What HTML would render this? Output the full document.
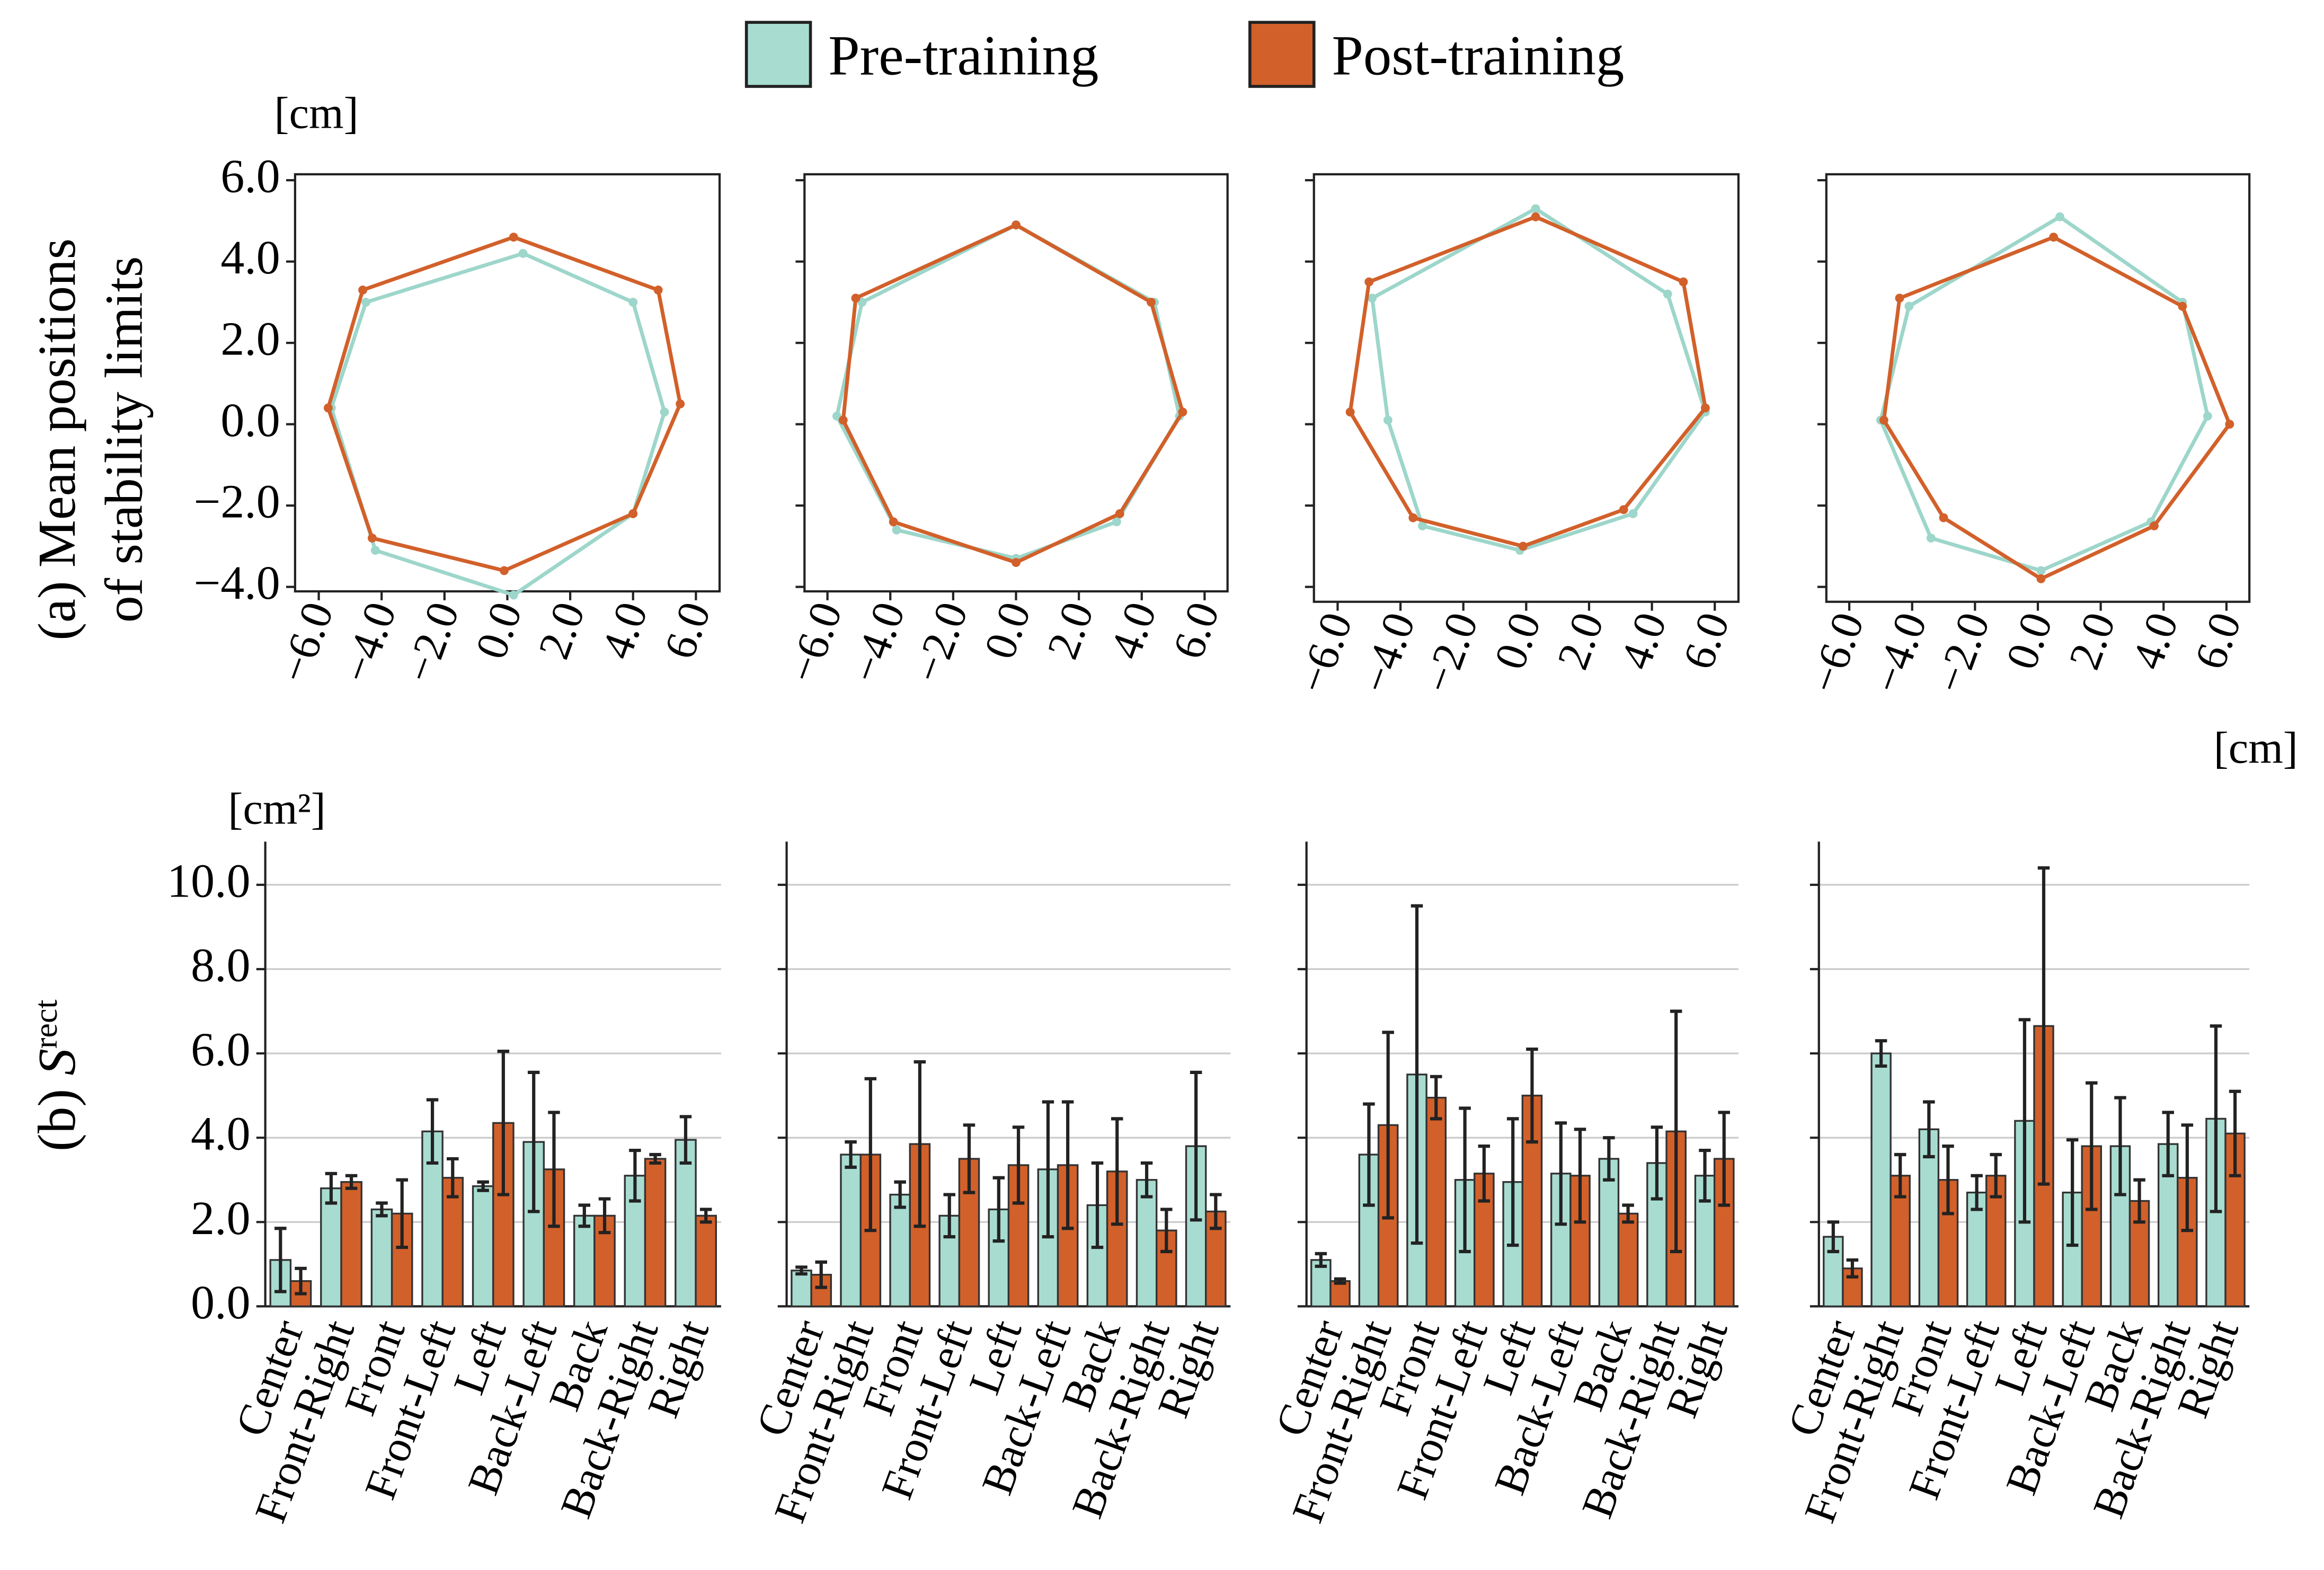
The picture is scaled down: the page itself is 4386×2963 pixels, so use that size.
<!DOCTYPE html>
<html><head><meta charset="utf-8">
<style>
html,body{margin:0;padding:0;background:#fff;}
svg{display:block;font-family:"Liberation Serif",serif;}
</style></head>
<body>
<svg id="fig" width="4386" height="2963" viewBox="0 0 1560 1054" xmlns="http://www.w3.org/2000/svg">
  <g>
    <rect x="501" y="15" width="43" height="43" fill="#a8dcd1" stroke="#222" stroke-width="2"/>
    <text x="556" y="50" font-size="38">Pre-training</text>
    <rect x="839" y="15" width="43" height="43" fill="#d2602a" stroke="#222" stroke-width="2"/>
    <text x="894" y="50" font-size="38">Post-training</text>
  </g>
  <text x="184" y="86" font-size="30">[cm]</text>
  <text x="1486" y="512" font-size="30">[cm]</text>
  <text x="153" y="553" font-size="30">[cm²]</text>
  <text font-size="36" text-anchor="middle" transform="translate(50,295) rotate(-90)">(a) Mean positions</text>
  <text font-size="36" text-anchor="middle" transform="translate(95,295) rotate(-90)">of stability limits</text>
  <text font-size="36" text-anchor="middle" transform="translate(50,722) rotate(-90)">(b) <tspan font-style="italic">S</tspan><tspan font-size="22" dy="-12">rect</tspan></text>
  <g id="radars"></g>
  <g id="bars"></g>
</svg>
<script>
// ---- radar data (x,y in cm), order: Front, FR, Right, BR, Back, BL, Left, FL
const radarPreX = [[0.5,4.0,5.0,4.0,0.2,-4.2,-5.6,-4.5],[0.0,4.4,5.2,3.2,0.0,-3.8,-5.7,-4.9],[0.3,4.5,5.7,3.4,-0.2,-3.3,-4.4,-4.9],[0.7,4.6,5.4,3.6,0.1,-3.4,-5.0,-4.1]];
const radarPreY = [[4.2,3.0,0.3,-2.2,-4.2,-3.1,0.4,3.0],[4.9,3.0,0.2,-2.4,-3.3,-2.6,0.2,3.0],[5.3,3.2,0.3,-2.2,-3.1,-2.5,0.1,3.1],[5.1,3.0,0.2,-2.4,-3.6,-2.8,0.1,2.9]];
const radarPostX = [[0.2,4.8,5.5,4.0,-0.1,-4.3,-5.7,-4.6],[0.0,4.3,5.3,3.3,0.0,-3.9,-5.5,-5.1],[0.3,5.0,5.7,3.1,-0.1,-3.6,-5.6,-5.0],[0.5,4.6,6.1,3.7,0.1,-3.0,-4.9,-4.4]];
const radarPostY = [[4.6,3.3,0.5,-2.2,-3.6,-2.8,0.4,3.3],[4.9,3.0,0.3,-2.2,-3.4,-2.4,0.1,3.1],[5.1,3.5,0.4,-2.1,-3.0,-2.3,0.3,3.5],[4.6,2.9,0.0,-2.5,-3.8,-2.3,0.1,3.1]];
const radarXTicks = ["−6.0","−4.0","−2.0","0.0","2.0","4.0","6.0"];
const radarXTickVals = [-6,-4,-2,0,2,4,6];
const radarYTicks = ["6.0","4.0","2.0","0.0","−2.0","−4.0"];
const radarYTickVals = [6,4,2,0,-2,-4];
// ---- bar data
const categories = ["Center","Front-Right","Front","Front-Left","Left","Back-Left","Back","Back-Right","Right"];
const barPre = [[1.1,2.8,2.3,4.15,2.85,3.9,2.15,3.1,3.95],[0.85,3.6,2.65,2.15,2.3,3.25,2.4,3.0,3.8],[1.1,3.6,5.5,3.0,2.95,3.15,3.5,3.4,3.1],[1.65,6.0,4.2,2.7,4.4,2.7,3.8,3.85,4.45]];
const barPreErr = [[0.75,0.35,0.15,0.75,0.1,1.65,0.25,0.6,0.55],[0.08,0.3,0.3,0.5,0.75,1.6,1.0,0.4,1.75],[0.15,1.2,4.0,1.7,1.5,1.2,0.5,0.85,0.6],[0.35,0.3,0.65,0.4,2.4,1.25,1.15,0.75,2.2]];
const barPost = [[0.6,2.95,2.2,3.05,4.35,3.25,2.15,3.5,2.15],[0.75,3.6,3.85,3.5,3.35,3.35,3.2,1.8,2.25],[0.6,4.3,4.95,3.15,5.0,3.1,2.2,4.15,3.5],[0.9,3.1,3.0,3.1,6.65,3.8,2.5,3.05,4.1]];
const barPostErr = [[0.3,0.15,0.8,0.45,1.7,1.35,0.4,0.1,0.15],[0.3,1.8,1.95,0.8,0.9,1.5,1.25,0.5,0.4],[0.05,2.2,0.5,0.65,1.1,1.1,0.2,2.85,1.1],[0.2,0.5,0.8,0.5,3.75,1.5,0.5,1.25,1.0]];
const barYTicks = ["0.0","2.0","4.0","6.0","8.0","10.0"];
const barYTickVals = [0,2,4,6,8,10];

const NS="http://www.w3.org/2000/svg";
function mk(tag,attrs,parent){const e=document.createElementNS(NS,tag);for(const k in attrs)e.setAttribute(k,attrs[k]);parent.appendChild(e);return e;}
const PRE="#a8dcd1", POST="#d2602a", PRE_LINE="#9dd6ca";

// radar panels
const radarFrames=[[198,117,483,397],[540,117,824,397],[882,117,1167,404],[1226,117,1510,404]];
const rg=document.getElementById('radars');
radarFrames.forEach((f,p)=>{
  const g=mk('g',{},rg);
  
  
  const [x0,y0,x1,y1]=f;
  const sx=v=>(x0+x1)/2+v*21.1;
  const sy=v=>y0+4+(6-v)*27.3;
  const fr=mk('rect',{x:x0,y:y0,width:x1-x0,height:y1-y0,fill:'none',stroke:'#222','stroke-width':1.5},g);
  
  
  radarXTickVals.forEach((v,i)=>{
    mk('line',{x1:sx(v),x2:sx(v),y1:y1,y2:y1+6,stroke:'#222','stroke-width':1.5},g);
    const t=mk('text',{'font-size':30,'text-anchor':'end',transform:`translate(${sx(v)+10},${y1+12}) rotate(-70)`},g);
    
    
    t.textContent=radarXTicks[i];
  });
  radarYTickVals.forEach((v,i)=>{
    mk('line',{x1:x0-6,x2:x0,y1:sy(v),y2:sy(v),stroke:'#222','stroke-width':1.5},g);
    if(p===0){
      const t=mk('text',{x:x0-10,y:sy(v)+8,'font-size':32,'text-anchor':'end'},g);
      
      
      t.textContent=radarYTicks[i];
    }
  });
  [[radarPreX,radarPreY,PRE_LINE,'pre'],[radarPostX,radarPostY,POST,'post']].forEach(([X,Y,c,n])=>{
    const pts=X[p].map((xv,i)=>sx(xv)+','+sy(Y[p][i])).join(' ');
    const pl=mk('polygon',{points:pts,fill:'none',stroke:c,'stroke-width':2.5},g);
    
    
    X[p].forEach((xv,i)=>{
      const c2=mk('circle',{cx:sx(xv),cy:sy(Y[p][i]),r:3,fill:c},g);
      
      
    });
  });
});

// bar panels
const barFrames=[[178,484],[528,826],[877,1167],[1221,1510]];
const by0=877, bTop=565;
const syb=v=>by0-v*28.3;
const bg=document.getElementById('bars');
barFrames.forEach((f,p)=>{
  const g=mk('g',{},bg);
  
  
  const [x0,x1]=f;
  barYTickVals.forEach((v,i)=>{
    if(v>0){const gl=mk('line',{x1:x0,x2:x1,y1:syb(v),y2:syb(v),stroke:'#ccc','stroke-width':1.2},g);
      
      }
    mk('line',{x1:x0-6,x2:x0,y1:syb(v),y2:syb(v),stroke:'#222','stroke-width':1.5},g);
    if(p===0){
      const t=mk('text',{x:x0-10,y:syb(v)+8,'font-size':32,'text-anchor':'end'},g);
      
      
      t.textContent=barYTicks[i];
    }
  });
  mk('line',{x1:x0,x2:x0,y1:bTop,y2:by0,stroke:'#222','stroke-width':1.5},g);
  mk('line',{x1:x0,x2:x1,y1:by0,y2:by0,stroke:'#222','stroke-width':1.5},g);
  const step=(x1-x0)/9, bw=step*0.4;
  categories.forEach((c,i)=>{
    const cx=x0+step*(i+0.5);
    [[barPre,barPreErr,PRE,-1,'pre'],[barPost,barPostErr,POST,0,'post']].forEach(([V,E,col,off,n])=>{
      const v=V[p][i], e=E[p][i], bx=cx+off*bw;
      const r=mk('rect',{x:bx,y:syb(v),width:bw,height:by0-syb(v),fill:col,stroke:'#333','stroke-width':1.2},g);
      
      
      const mx=bx+bw/2;
      const eb=mk('path',{d:`M${mx},${syb(v-e)}V${syb(v+e)}M${mx-4},${syb(v-e)}H${mx+4}M${mx-4},${syb(v+e)}H${mx+4}`,stroke:'#222','stroke-width':2.2,fill:'none'},g);
      
      
    });
    const t=mk('text',{'font-size':30,'text-anchor':'end',transform:`translate(${cx+9},${by0+14}) rotate(-70)`},g);
    
    
    t.textContent=c;
  });
});
</script>
</body></html>
